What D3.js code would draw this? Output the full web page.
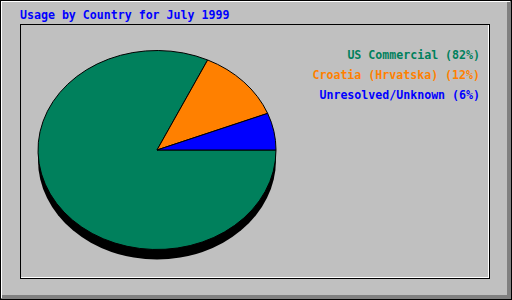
<!DOCTYPE html>
<html>
<head>
<meta charset="utf-8">
<script src="https://cdn.jsdelivr.net/npm/d3@7"></script>
<style>
  html, body { margin: 0; padding: 0; background: #fff; }
  svg { display: block; }
  text { font-family: "DejaVu Sans Mono", "Liberation Mono", monospace; font-weight: bold; font-size: 11.6px; }
</style>
</head>
<body>
<div id="chart"></div>
<script>
// donnees du graphique
const title = "Usage by Country for July 1999";
const countries = ["US Commercial", "Croatia (Hrvatska)", "Unresolved/Unknown"];
const percents = [82, 12, 6];

const W = 512, H = 300;

const svg = d3.select("#chart")
  .append("svg")
  .attr("width", W)
  .attr("height", H);

// fond gris
svg.append("rect")
  .attr("width", W).attr("height", H)
  .attr("fill", "#c0c0c0");

// cadre exterieur
const frame = svg.append("g").attr("shape-rendering", "crispEdges");
frame.append("path")
  .attr("d", "M507,2 L511,0 L511,299 L0,299 L2,295 L507,295 Z")
  .attr("fill", "#808080");
frame.append("rect")
  .attr("x", 0.5).attr("y", 0.5).attr("width", 511).attr("height", 299)
  .attr("fill", "none").attr("stroke", "#000");
frame.append("path")
  .attr("d", "M1.5,298 L1.5,1.5 L510,1.5")
  .attr("fill", "none").attr("stroke", "#fff");

// cadre interieur
frame.append("rect")
  .attr("x", 20.5).attr("y", 24.5).attr("width", 469).attr("height", 254)
  .attr("fill", "none").attr("stroke", "#000");
frame.append("path")
  .attr("d", "M21,277.5 L488.5,277.5 L488.5,25")
  .attr("fill", "none").attr("stroke", "#fff");

// titre
svg.append("text")
  .attr("x", 20).attr("y", 19)
  .attr("fill", "#0000ff")
  .text(title);

// echelle de couleurs
const color = d3.scaleOrdinal()
  .domain(countries)
  .range(["#00805c", "#ff8000", "#0000ff"]);

// camembert (ellipse)
const cx = 157, cy = 150, rx = 119, ry = 99.5, depth = 10;

const pie = d3.pie()
  .sort(null)
  .value(d => d.pct)
  .startAngle(Math.PI / 2)
  .endAngle(Math.PI / 2 + 2 * Math.PI);

const data = countries.map((c, i) => ({ name: c, pct: percents[i] }));

const arc = d3.arc().innerRadius(0).outerRadius(ry);

// ombre
svg.append("ellipse")
  .attr("cx", cx).attr("cy", cy + depth)
  .attr("rx", rx).attr("ry", ry)
  .attr("fill", "#000");

const pieG = svg.append("g")
  .attr("transform", `translate(${cx},${cy}) scale(${rx / ry},1)`);

pieG.selectAll("path")
  .data(pie(data))
  .enter()
  .append("path")
  .attr("d", arc)
  .attr("fill", d => color(d.data.name))
  .attr("stroke", "#000")
  .attr("stroke-width", 1)
  .attr("vector-effect", "non-scaling-stroke");

// legende
svg.selectAll(".legend")
  .data(data)
  .enter()
  .append("text")
  .attr("class", "legend")
  .attr("x", 480)
  .attr("y", (d, i) => 58.5 + i * 20)
  .attr("text-anchor", "end")
  .attr("fill", d => color(d.name))
  .text(d => `${d.name} (${d.pct}%)`);
</script>
</body>
</html>
